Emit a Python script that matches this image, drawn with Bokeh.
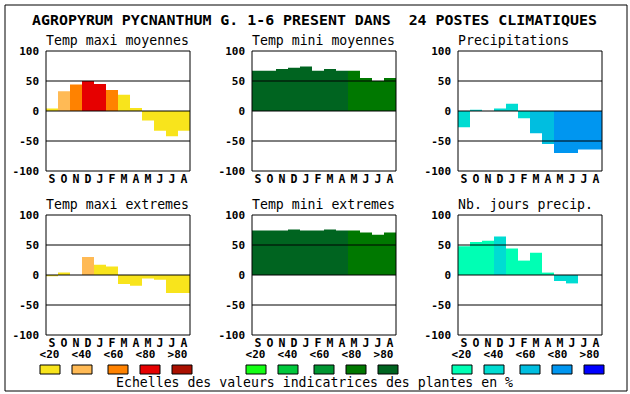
from bokeh.plotting import figure
from bokeh.models import Range1d
from bokeh.core.properties import value
from bokeh.embed import file_html
from bokeh.resources import INLINE

# ---------------- data ----------------
title = "AGROPYRUM PYCNANTHUM G. 1-6 PRESENT DANS \u00a024 POSTES CLIMATIQUES"
months = ["S", "O", "N", "D", "J", "F", "M", "A", "M", "J", "J", "A"]
tick_values = [100, 50, 0, -50, -100]
tick_labels = ["100", "50", "0", "-50", "-100"]
grid_values = [50, 0, -50]
legend_labels = ["<20", "<40", "<60", "<80", ">80"]
footer = "Echelles des valeurs indicatrices des plantes en %"

panel_titles = ["Temp maxi moyennes", "Temp mini moyennes", "Precipitations",
                "Temp maxi extremes", "Temp mini extremes", "Nb. jours precip."]

tmax_moy = [4, 33, 44, 50, 45, 35, 27, 5, -16, -33, -42, -33]
tmax_moy_cls = [0, 1, 2, 3, 3, 2, 0, 0, 0, 0, 0, 0]
tmin_moy = [67, 67, 70, 72, 74, 67, 70, 67, 67, 55, 50, 55]
tmin_moy_cls = [4, 4, 4, 4, 4, 4, 4, 4, 3, 3, 3, 3]
precip = [-27, 2, 0, 4, 12, -12, -37, -55, -70, -70, -64, -64]
precip_cls = [1, 1, 1, 1, 1, 1, 2, 2, 3, 3, 3, 3]
tmax_ext = [-2, 4, 0, 30, 17, 14, -15, -18, -6, -8, -30, -30]
tmax_ext_cls = [0, 0, 0, 1, 0, 0, 0, 0, 0, 0, 0, 0]
tmin_ext = [74, 74, 74, 76, 74, 74, 76, 74, 74, 71, 67, 71]
tmin_ext_cls = [4, 4, 4, 4, 4, 4, 4, 4, 3, 3, 3, 3]
nbj = [48, 55, 57, 64, 44, 24, 37, 4, -10, -14, 0, 0]
nbj_cls = [0, 0, 0, 1, 0, 0, 0, 0, 1, 1, 0, 0]

# ---------------- styles ----------------
pal_tmax = ["#F8E41C", "#FFBA55", "#FF8200", "#E60000", "#AA1000"]
pal_tmin = ["#14FF14", "#00C83C", "#009632", "#007800", "#006420"]
pal_prec = ["#00FFB4", "#00DCD2", "#00BEE0", "#0096F0", "#0000FF"]
palettes = [pal_tmax, pal_tmin, pal_prec]

series = [(tmax_moy, tmax_moy_cls), (tmin_moy, tmin_moy_cls), (precip, precip_cls),
          (tmax_ext, tmax_ext_cls), (tmin_ext, tmin_ext_cls), (nbj, nbj_cls)]

FONT = value("DejaVu Sans Mono")
W, H = 630, 394
panel_lefts = [45.5, 251.5, 457.5]
row_tops = [50.5, 214.5]
PX_MONTH = 12.0      # px per month
PX_UNIT = 0.6        # px per value unit

p = figure(width=W, height=H, x_range=Range1d(0, W), y_range=Range1d(H, 0),
           output_backend="svg", toolbar_location=None, min_border=0,
           x_axis_location=None, y_axis_location=None)
p.min_border_left = p.min_border_right = p.min_border_top = p.min_border_bottom = 0
p.grid.visible = False
p.outline_line_color = None
p.background_fill_color = "white"
p.border_fill_color = "white"

xr, yr = {}, {}
for r in range(2):
    for c in range(3):
        L, T = panel_lefts[c], row_tops[r]
        xs = -0.5 - L / PX_MONTH
        xr[f"x{r}{c}"] = Range1d(xs, xs + W / PX_MONTH)
        ytop = 100 + T / PX_UNIT
        ybot = -100 - (H - (T + 120)) / PX_UNIT
        yr[f"y{r}{c}"] = Range1d(ybot, ytop)
p.extra_x_ranges = xr
p.extra_y_ranges = yr

# outer border
p.quad(left=[4.5], right=[626.5], top=[4.5], bottom=[390.5],
       fill_color=None, line_color="black", line_width=1)

# main title
p.text(x=[314], y=[19.5], text=[title], text_font=FONT, text_font_size="14.9px",
       text_font_style="bold", text_align="center", text_baseline="alphabetic",
       text_color="black")

for k, (vals, cls) in enumerate(series):
    r, c = divmod(k, 3)
    kw = dict(x_range_name=f"x{r}{c}", y_range_name=f"y{r}{c}")
    pal = palettes[c]
    colors = [pal[i] for i in cls]
    p.vbar(x=list(range(12)), top=vals, bottom=0, width=1, fill_color=colors,
           line_color=None, **kw)
    p.segment(x0=[-0.5] * len(grid_values), x1=[11.5] * len(grid_values),
              y0=grid_values, y1=grid_values, line_color="black", line_width=1, **kw)
    p.quad(left=[-0.5], right=[11.5], top=[100], bottom=[-100],
           fill_color=None, line_color="black", line_width=1, **kw)
    p.text(x=[-0.5] * len(tick_values), y=tick_values, text=tick_labels,
           x_offset=-7, text_align="right", text_baseline="middle",
           text_font=FONT, text_font_size="11px", text_font_style="bold",
           text_color="black", **kw)
    p.text(x=list(range(12)), y=[-100] * 12, text=months, y_offset=7.5,
           text_align="center", text_baseline="middle", text_font=FONT,
           text_font_size="11.5px", text_font_style="bold", text_color="black", **kw)
    p.text(x=[-0.5], y=[100], text=[panel_titles[k]], y_offset=-11,
           text_align="left", text_baseline="alphabetic", text_font=FONT,
           text_font_size="13.2px", text_color="black", **kw)

# legends (layout positions relative to each column's box)
label_rel = [3.5, 35.5, 67.5, 99.5, 131.5]
swatch_rel = [-6, 26, 62, 94, 126]
for c in range(3):
    L = panel_lefts[c]
    p.text(x=[L + d for d in label_rel], y=[354] * 5, text=legend_labels,
           text_align="center", text_baseline="middle", text_font=FONT,
           text_font_size="11px", text_font_style="bold", text_color="black")
    lefts = [L + d for d in swatch_rel]
    p.quad(left=lefts, right=[v + 20 for v in lefts], top=[364.5] * 5,
           bottom=[373.5] * 5, fill_color=palettes[c], line_color="black",
           line_width=1)

p.text(x=[314], y=[381.5], text=[footer], text_align="center",
       text_baseline="alphabetic", text_font=FONT, text_font_size="13.2px",
       text_color="black")

open("out.html", "w").write(file_html(p, INLINE))
